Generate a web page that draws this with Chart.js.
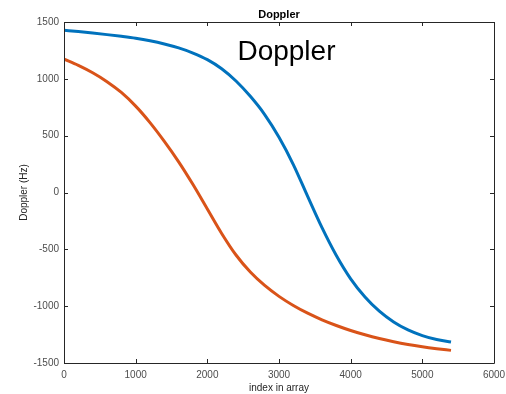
<!DOCTYPE html>
<html>
<head>
<meta charset="utf-8">
<script src="https://cdn.jsdelivr.net/npm/chart.js@4/dist/chart.umd.min.js"></script>
<style>
  html, body { margin: 0; padding: 0; background: #ffffff; }
  #wrap { width: 506px; height: 394px; position: relative; }
</style>
</head>
<body>
<div id="wrap"><canvas id="c" width="506" height="394"></canvas></div>
<script>
// Sample positions (index in array)
const indexValues = [0, 200, 400, 600, 800, 1000, 1200, 1400, 1600, 1800, 2000, 2200, 2400, 2600,
  2800, 3000, 3200, 3400, 3600, 3800, 4000, 4200, 4400, 4600, 4800, 5000, 5200, 5400];
// Series 1 (blue)
const dopplerBlue = [1428, 1416, 1403, 1389, 1374, 1357, 1335, 1307, 1272, 1227, 1169, 1089, 981, 846,
  686, 486, 246, -34, -309, -554, -759, -919, -1044, -1139, -1209, -1259, -1294, -1316];
// Series 2 (orange)
const dopplerOrange = [1173, 1118, 1053, 975, 880, 760, 615, 450, 270, 70, -145, -360, -550, -700,
  -818, -914, -994, -1062, -1120, -1170, -1214, -1252, -1285, -1313, -1337, -1357, -1374, -1389];
// Tick labels
const xTicks = [0, 1000, 2000, 3000, 4000, 5000, 6000];
const yTicks = [-1500, -1000, -500, 0, 500, 1000, 1500];

const chartTitle = 'Doppler';
const annotationText = 'Doppler';
const xTitle = 'index in array';
const yTitle = 'Doppler (Hz)';

const toPoints = (ys) => indexValues.map((x, i) => ({ x: x, y: ys[i] }));

const boxPlugin = {
  id: 'matlabBox',
  afterDatasetsDraw(chart) {
    const { ctx, chartArea: a, scales } = chart;
    const xs = scales.x, ys = scales.y;
    ctx.save();
    ctx.strokeStyle = '#262626';
    ctx.lineWidth = 1;
    ctx.beginPath();
    ctx.rect(Math.round(a.left) + 0.5, Math.round(a.top) + 0.5,
             Math.round(a.right - a.left), Math.round(a.bottom - a.top));
    ctx.stroke();
    const tl = 4;
    ctx.beginPath();
    xTicks.forEach(v => {
      const px = Math.round(xs.getPixelForValue(v)) + 0.5;
      ctx.moveTo(px, a.bottom); ctx.lineTo(px, a.bottom - tl);
      ctx.moveTo(px, a.top); ctx.lineTo(px, a.top + tl);
    });
    yTicks.forEach(v => {
      const py = Math.round(ys.getPixelForValue(v)) + 0.5;
      ctx.moveTo(a.left, py); ctx.lineTo(a.left + tl, py);
      ctx.moveTo(a.right, py); ctx.lineTo(a.right - tl, py);
    });
    ctx.stroke();
    // title
    ctx.fillStyle = '#000000';
    ctx.font = 'bold 11px "Liberation Sans", Arial, sans-serif';
    ctx.textAlign = 'center';
    ctx.textBaseline = 'alphabetic';
    ctx.fillText(chartTitle, (a.left + a.right) / 2, a.top - 4);
    // in-plot annotation text
    ctx.font = '28px "Liberation Sans", Arial, sans-serif';
    ctx.textAlign = 'left';
    ctx.fillText(annotationText, xs.getPixelForValue(2420), ys.getPixelForValue(1167));
    ctx.restore();
  }
};

const tickFont = { size: 10, family: '"Liberation Sans", Arial, sans-serif' };

new Chart(document.getElementById('c'), {
  type: 'line',
  data: {
    datasets: [
      { data: toPoints(dopplerBlue), borderColor: '#0072BD', borderWidth: 3, pointRadius: 0,
        cubicInterpolationMode: 'monotone', fill: false },
      { data: toPoints(dopplerOrange), borderColor: '#D95319', borderWidth: 3, pointRadius: 0,
        cubicInterpolationMode: 'monotone', fill: false }
    ]
  },
  options: {
    responsive: false,
    animation: false,
    devicePixelRatio: 1,
    layout: { padding: { top: 22, right: 12, left: 0, bottom: 0 } },
    plugins: { legend: { display: false }, tooltip: { enabled: false }, title: { display: false } },
    scales: {
      x: {
        type: 'linear', min: 0, max: 6000,
        afterBuildTicks: s => { s.ticks = xTicks.map(v => ({ value: v })); },
        afterFit: s => { s.height = 31; s.paddingLeft = 0; s.paddingRight = 0; },
        grid: { display: false, drawTicks: false },
        border: { display: false },
        ticks: { color: '#4d4d4d', font: tickFont, padding: 6, maxRotation: 0, autoSkip: false,
                 callback: v => String(v) },
        title: { display: true, text: xTitle, color: '#262626', padding: { top: 0, bottom: 0 },
                 font: tickFont }
      },
      y: {
        type: 'linear', min: -1500, max: 1500,
        afterBuildTicks: s => { s.ticks = yTicks.map(v => ({ value: v })); },
        afterFit: s => { s.width = 64; s.paddingTop = 0; s.paddingBottom = 0; },
        grid: { display: false, drawTicks: false },
        border: { display: false },
        ticks: { color: '#4d4d4d', font: tickFont, padding: 5, autoSkip: false,
                 callback: v => String(v) },
        title: { display: true, text: yTitle, color: '#262626', padding: { top: 18, bottom: 0 },
                 font: tickFont }
      }
    }
  },
  plugins: [boxPlugin]
});
</script>
</body>
</html>
